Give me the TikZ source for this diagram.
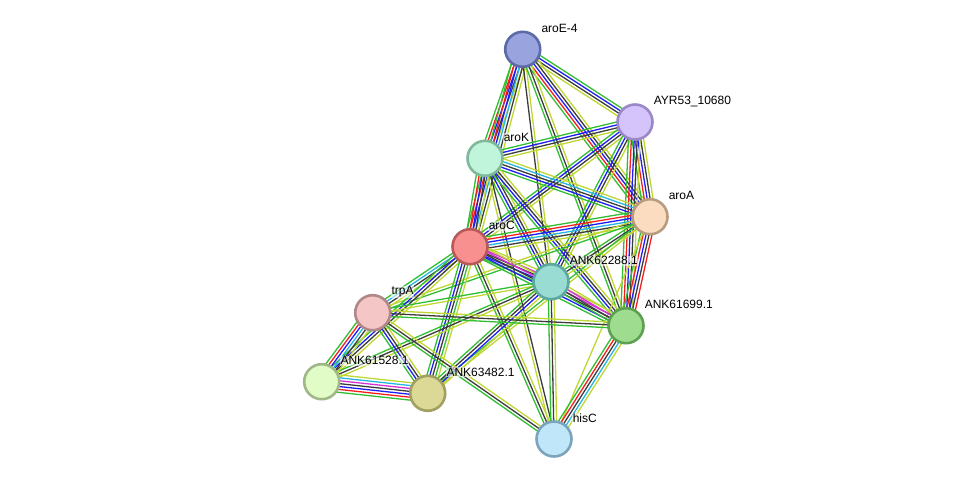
\documentclass[tikz,border=0pt]{standalone}
\usepackage{fontspec}
\setmainfont{Liberation Sans}
\usetikzlibrary{calc}
\pgfdeclarelayer{bg}
\pgfsetlayers{bg,main}
\definecolor{cg}{RGB}{50,190,50}
\definecolor{cr}{RGB}{245,30,30}
\definecolor{cb}{RGB}{30,30,245}
\definecolor{ck}{RGB}{60,60,60}
\definecolor{cm}{RGB}{210,50,210}
\definecolor{cc}{RGB}{40,180,225}
\definecolor{cy}{RGB}{190,215,50}
\tikzset{
  eg/.style={draw=cg,line width=1.3pt},
  er/.style={draw=cr,line width=1.3pt},
  eb/.style={draw=cb,line width=1.3pt},
  ek/.style={draw=ck,line width=1.3pt},
  em/.style={draw=cm,line width=1.3pt},
  ec/.style={draw=cc,line width=1.3pt},
  ey/.style={draw=cy,line width=1.3pt},
  prot/.style={circle,minimum size=35pt,inner sep=0pt,line width=2.6pt},
  lbl/.style={anchor=west,inner sep=0.6pt,fill=white,fill opacity=0.55,text opacity=1,font=\fontsize{12}{14}\selectfont}
}
\newcommand\ebund[3]{%
  \xdef\nn{0}%
  \foreach \c in {#3}{\xdef\nn{\the\numexpr\nn+1\relax}}%
  \foreach \c [count=\i] in {#3}{%
    \pgfmathsetmacro\off{(\i-(\nn+1)/2)*2.9}%
    \draw[\c] ($(#1)!\off pt!90:(#2)$) -- ($(#2)!\off pt!-90:(#1)$);}%
}
\begin{document}
\begin{tikzpicture}[x=1pt,y=-1pt]
\useasboundingbox (0,0) rectangle (976,485);
% nodes
\node[prot,fill={rgb,255:red,153;green,163;blue,221},draw={rgb,255:red,92;green,106;blue,168}] (aroE) at (522.7,49.3) {};
\node[prot,fill={rgb,255:red,212;green,196;blue,251},draw={rgb,255:red,154;green,136;blue,200}] (ayr) at (635,122) {};
\node[prot,fill={rgb,255:red,192;green,245;blue,220},draw={rgb,255:red,127;green,184;blue,155}] (arok) at (485,158.3) {};
\node[prot,fill={rgb,255:red,252;green,220;blue,192},draw={rgb,255:red,184;green,156;blue,128}] (aroa) at (650,216.7) {};
\node[prot,fill={rgb,255:red,248;green,144;blue,144},draw={rgb,255:red,184;green,88;blue,88}] (aroc) at (470,246.7) {};
\node[prot,fill={rgb,255:red,153;green,220;blue,212},draw={rgb,255:red,92;green,168;blue,160}] (a62288) at (551,281.7) {};
\node[prot,fill={rgb,255:red,245;green,198;blue,198},draw={rgb,255:red,176;green,136;blue,136}] (trpa) at (372.7,312.7) {};
\node[prot,fill={rgb,255:red,158;green,220;blue,144},draw={rgb,255:red,92;green,160;blue,80}] (a61699) at (626,325.7) {};
\node[prot,fill={rgb,255:red,226;green,252;blue,200},draw={rgb,255:red,160;green,184;blue,136}] (a61528) at (321.7,381.7) {};
\node[prot,fill={rgb,255:red,220;green,216;blue,150},draw={rgb,255:red,160;green,160;blue,96}] (a63482) at (427.7,393.3) {};
\node[prot,fill={rgb,255:red,192;green,230;blue,250},draw={rgb,255:red,124;green,164;blue,188}] (hisc) at (554,439) {};
% labels
\node[lbl] (laroE) at ($(aroE)+(18,-21)$) {aroE-4};
\node[lbl] (layr) at ($(ayr)+(18,-21)$) {AYR53\_10680};
\node[lbl] (larok) at ($(arok)+(18,-21)$) {aroK};
\node[lbl] (laroa) at ($(aroa)+(18,-21)$) {aroA};
\node[lbl] (laroc) at ($(aroc)+(18,-21)$) {aroC};
\node[lbl] (l62288) at ($(a62288)+(18,-21)$) {ANK62288.1};
\node[lbl] (ltrpa) at ($(trpa)+(18,-21)$) {trpA};
\node[lbl] (l61699) at ($(a61699)+(18,-21)$) {ANK61699.1};
\node[lbl] (l61528) at ($(a61528)+(18,-21)$) {ANK61528.1};
\node[lbl] (l63482) at ($(a63482)+(18,-21)$) {ANK63482.1};
\node[lbl] (lhisc) at ($(hisc)+(18,-21)$) {hisC};
% edges
\begin{pgfonlayer}{bg}
\ebund{aroE}{arok}{eg,er,eb,ek,ey}
\ebund{aroE}{aroc}{eg,er,eb,ec,ek,ey}
\ebund{aroE}{ayr}{ey,ek,eb,eg}
\ebund{aroE}{aroa}{eg,er,eb,ek,ey}
\ebund{aroE}{a62288}{ek,ey}
\ebund{aroE}{a61699}{eg,ek,ey}
\ebund{ayr}{arok}{eg,eb,ek,ey}
\ebund{ayr}{aroc}{eg,eb,ek,ey}
\ebund{ayr}{aroa}{eg,er,eb,ek,ey}
\ebund{ayr}{a62288}{eg,eb,ek,ey}
\ebund{ayr}{a61699}{eg,er,eb,ek,ey}
\ebund{arok}{aroc}{eg,er,eb,ek,ey}
\ebund{arok}{aroa}{eg,eb,ek,ec,ey}
\ebund{arok}{a62288}{eg,eb,ek,ey}
\ebund{arok}{a61699}{eg,eb,ek,ey}
\ebund{arok}{hisc}{ey,ek}
\ebund{aroa}{aroc}{eg,er,eb,ec,ek,ey}
\ebund{aroa}{a62288}{eg,ek,ey}
\ebund{aroa}{a61699}{eg,er,eb,ek,er}
\ebund{aroa}{trpa}{ey,eg}
\ebund{aroa}{hisc}{ey}
\ebund{aroa}{a63482}{eg,ey}
\ebund{aroc}{a62288}{eg,eb,ek,em,ey}
\ebund{aroc}{a61699}{eg,eb,ek,em,ey}
\ebund{aroc}{trpa}{eg,ec,ek,ey}
\ebund{aroc}{a61528}{eg,eb,ek,ey}
\ebund{aroc}{a63482}{eg,eb,ek,eg,ey}
\ebund{aroc}{hisc}{eg,ek,ey}
\ebund{a62288}{trpa}{eg,ey}
\ebund{a62288}{a61699}{eg,ek,em,ey}
\ebund{a62288}{a61528}{eg,ek,ey}
\ebund{a62288}{a63482}{eg,ek,eb,ey}
\ebund{a62288}{hisc}{eg,ek,ey}
\ebund{trpa}{a61699}{eg,ek,ey}
\ebund{trpa}{a61528}{eg,er,eb,ec,ek,ey}
\ebund{trpa}{a63482}{eg,eb,ek,ey}
\ebund{trpa}{hisc}{eg,ek,ey}
\ebund{a61528}{a63482}{eg,er,eb,ek,em,ec,ey}
\ebund{a61699}{hisc}{eg,er,ek,ec,ey}
\end{pgfonlayer}
\end{tikzpicture}
\end{document}
